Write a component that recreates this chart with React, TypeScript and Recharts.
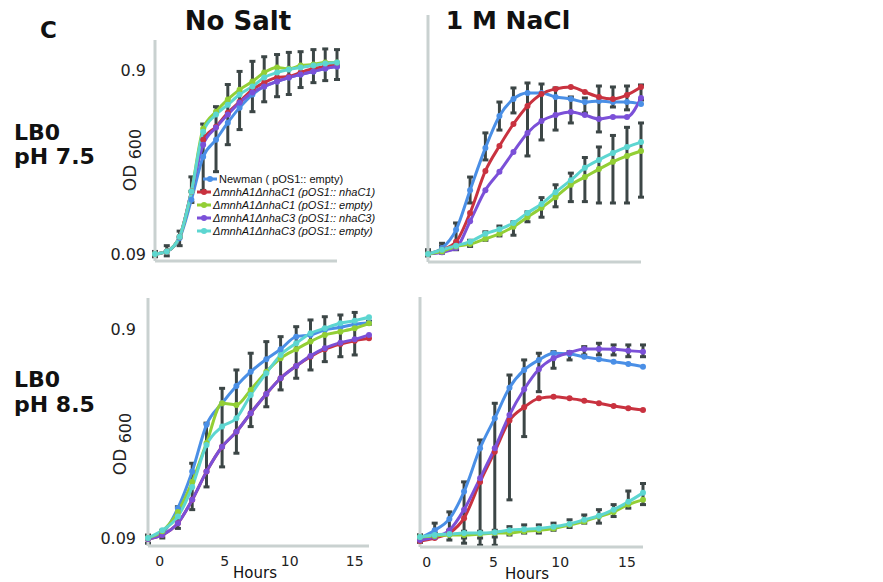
import React from "react";
import { LineChart, Line, XAxis, YAxis, ErrorBar } from "recharts";

// sampling times (h); the two columns were plotted with slightly different offsets
const hoursNoSalt = [-0.9, 0.2, 1.4, 2.5, 3.6, 4.8, 5.9, 7.0, 8.2, 9.3, 10.5, 11.6, 12.7, 13.9, 15.0, 16.1];
const hoursNaCl = [-0.5, 0.6, 1.7, 2.8, 4.0, 5.1, 6.2, 7.3, 8.4, 9.5, 10.7, 11.8, 12.9, 14.0, 15.1, 16.2];

// LB0 pH 7.5, no salt
const ns75Newman = [0.09, 0.093, 0.11, 0.178, 0.305, 0.378, 0.468, 0.565, 0.666, 0.737, 0.784, 0.825, 0.856, 0.89, 0.923, 0.947];
const ns75C1Comp = [0.09, 0.093, 0.112, 0.197, 0.378, 0.445, 0.53, 0.608, 0.708, 0.773, 0.825, 0.834, 0.878, 0.923, 0.947, 0.982];
const ns75C1Empty = [0.09, 0.093, 0.112, 0.197, 0.434, 0.537, 0.626, 0.708, 0.784, 0.878, 0.934, 0.921, 0.958, 0.971, 0.996, 0.996];
const ns75C3Comp = [0.09, 0.093, 0.112, 0.197, 0.355, 0.44, 0.518, 0.601, 0.683, 0.737, 0.784, 0.825, 0.856, 0.89, 0.923, 0.947];
const ns75C3Empty = [0.09, 0.093, 0.112, 0.197, 0.418, 0.518, 0.586, 0.666, 0.737, 0.825, 0.878, 0.911, 0.934, 0.958, 0.982, 0.996];
const ns75Lo = [0.087, 0.088, 0.1, 0.172, 0.2, 0.253, 0.355, 0.429, 0.537, 0.608, 0.648, 0.666, 0.727, 0.773, 0.793, 0.804];
const ns75Hi = [0.093, 0.1, 0.12, 0.237, 0.46, 0.572, 0.755, 0.89, 1.01, 1.07, 1.1, 1.13, 1.14, 1.17, 1.18, 1.17];

// LB0 pH 7.5, 1 M NaCl
const na75Newman = [0.09, 0.097, 0.122, 0.201, 0.342, 0.511, 0.633, 0.683, 0.683, 0.649, 0.633, 0.609, 0.617, 0.609, 0.609, 0.594];
const na75C1Comp = [0.09, 0.095, 0.105, 0.151, 0.256, 0.35, 0.462, 0.58, 0.674, 0.718, 0.736, 0.691, 0.649, 0.633, 0.666, 0.736];
const na75C1Empty = [0.09, 0.093, 0.099, 0.102, 0.109, 0.116, 0.127, 0.143, 0.161, 0.184, 0.215, 0.237, 0.262, 0.287, 0.309, 0.329];
const na75C3Comp = [0.09, 0.092, 0.097, 0.136, 0.201, 0.253, 0.325, 0.413, 0.48, 0.517, 0.537, 0.517, 0.492, 0.505, 0.505, 0.641];
const na75C3Empty = [0.09, 0.095, 0.1, 0.105, 0.116, 0.123, 0.133, 0.151, 0.169, 0.196, 0.228, 0.266, 0.294, 0.321, 0.346, 0.368];
const na75UpLo = [0.088, 0.092, 0.103, 0.171, 0.294, 0.428, 0.531, 0.309, 0.378, 0.428, 0.468, 0.531, 0.418, 0.572, 0.552, 0.625];
const na75UpHi = [0.095, 0.103, 0.133, 0.237, 0.413, 0.609, 0.727, 0.774, 0.764, 0.727, 0.649, 0.641, 0.745, 0.736, 0.745, 0.755];
const na75LowLo = [0.088, 0.091, 0.095, 0.099, 0.107, 0.113, 0.114, 0.135, 0.143, 0.163, 0.174, 0.174, 0.171, 0.171, 0.171, 0.184];
const na75LowHi = [0.092, 0.099, 0.103, 0.107, 0.119, 0.128, 0.135, 0.153, 0.183, 0.215, 0.249, 0.303, 0.346, 0.4, 0.443, 0.468];

// LB0 pH 8.5, no salt
const ns85Newman = [0.09, 0.095, 0.125, 0.187, 0.313, 0.397, 0.48, 0.562, 0.645, 0.72, 0.827, 0.843, 0.89, 0.917, 0.948, 0.965];
const ns85C1Comp = [0.089, 0.093, 0.106, 0.137, 0.187, 0.246, 0.29, 0.356, 0.44, 0.523, 0.599, 0.663, 0.72, 0.763, 0.791, 0.812];
const ns85C1Empty = [0.09, 0.097, 0.12, 0.167, 0.256, 0.397, 0.39, 0.46, 0.562, 0.652, 0.72, 0.783, 0.843, 0.874, 0.907, 0.958];
const ns85C3Comp = [0.089, 0.093, 0.106, 0.137, 0.187, 0.246, 0.29, 0.356, 0.44, 0.523, 0.599, 0.669, 0.728, 0.774, 0.803, 0.843];
const ns85C3Empty = [0.09, 0.098, 0.114, 0.158, 0.251, 0.307, 0.337, 0.435, 0.553, 0.676, 0.769, 0.858, 0.907, 0.958, 0.986, 1.024];
const ns85Lo = [0.085, 0.09, 0.1, 0.123, 0.158, 0.197, 0.229, 0.307, 0.382, 0.46, 0.523, 0.573, 0.628, 0.663, 0.676, 0.95];
const ns85Hi = [0.093, 0.098, 0.127, 0.205, 0.319, 0.468, 0.573, 0.689, 0.783, 0.827, 0.923, 0.994, 1.03, 1.05, 1.08, 0.98];

// LB0 pH 8.5, 1 M NaCl
const na85Newman = [0.09, 0.098, 0.111, 0.15, 0.242, 0.337, 0.471, 0.573, 0.64, 0.689, 0.683, 0.663, 0.645, 0.628, 0.612, 0.594];
const na85C1Comp = [0.087, 0.09, 0.095, 0.112, 0.167, 0.233, 0.328, 0.38, 0.419, 0.427, 0.419, 0.408, 0.397, 0.385, 0.376, 0.369];
const na85C1Empty = [0.091, 0.092, 0.093, 0.093, 0.094, 0.095, 0.095, 0.097, 0.098, 0.1, 0.104, 0.108, 0.114, 0.12, 0.13, 0.137];
const na85C3Comp = [0.088, 0.091, 0.098, 0.123, 0.174, 0.242, 0.349, 0.463, 0.577, 0.652, 0.693, 0.722, 0.722, 0.72, 0.709, 0.701];
const na85C3Empty = [0.091, 0.093, 0.094, 0.095, 0.095, 0.096, 0.098, 0.099, 0.1, 0.102, 0.105, 0.11, 0.115, 0.123, 0.134, 0.148];
const na85UpLo = [0.086, 0.09, 0.098, 0.085, 0.083, 0.083, 0.137, 0.275, 0.451, 0.584, 0.64, 0.676, 0.676, 0.676, 0.663, 0.663];
const na85UpHi = [0.093, 0.106, 0.12, 0.167, 0.265, 0.397, 0.542, 0.64, 0.689, 0.701, 0.701, 0.741, 0.769, 0.755, 0.755, 0.755];
const na85LowLo = [0.086, 0.091, 0.088, 0.09, 0.09, 0.091, 0.093, 0.095, 0.095, 0.098, 0.101, 0.106, 0.106, 0.114, 0.125, 0.13];
const na85LowHi = [0.093, 0.095, 0.097, 0.097, 0.097, 0.098, 0.102, 0.104, 0.104, 0.106, 0.11, 0.116, 0.123, 0.13, 0.151, 0.164];

const odTicks = [0.09, 0.9];
const hourTicks = [0, 5, 10, 15];

const strains = [
  { key: "newman", name: "Newman ( pOS1:: empty)", color: "#4a8fe6", italic: false },
  { key: "c1comp", name: "\u0394mnhA1\u0394nhaC1 (pOS1:: nhaC1)", color: "#c9323f", italic: true },
  { key: "c1empty", name: "\u0394mnhA1\u0394nhaC1 (pOS1:: empty)", color: "#93cf35", italic: true },
  { key: "c3comp", name: "\u0394mnhA1\u0394nhaC3 (pOS1:: nhaC3)", color: "#7b50d8", italic: true },
  { key: "c3empty", name: "\u0394mnhA1\u0394nhaC3 (pOS1:: empty)", color: "#5dd6d1", italic: true },
];
// paint order (last on top)
const drawOrder = ["newman", "c1comp", "c3comp", "c1empty", "c3empty"];

const AXIS = "#c9d1d0";
const BAR = "#3c4646";
const FONT = "DejaVu Sans, sans-serif";

function buildRows(hours: number[], series: Record<string, number[]>, bars: [number[], number[]][]) {
  return hours.map((h, i) => {
    const row: any = { hour: h };
    Object.keys(series).forEach((k) => (row[k] = series[k][i]));
    bars.forEach(([lo, hi], b) => {
      row[`bar${b}`] = lo[i];
      row[`barErr${b}`] = [0, hi[i] - lo[i]];
    });
    return row;
  });
}

const ns75Rows = buildRows(
  hoursNoSalt,
  { newman: ns75Newman, c1comp: ns75C1Comp, c1empty: ns75C1Empty, c3comp: ns75C3Comp, c3empty: ns75C3Empty },
  [[ns75Lo, ns75Hi]]
);
const na75Rows = buildRows(
  hoursNaCl,
  { newman: na75Newman, c1comp: na75C1Comp, c1empty: na75C1Empty, c3comp: na75C3Comp, c3empty: na75C3Empty },
  [[na75UpLo, na75UpHi], [na75LowLo, na75LowHi]]
);
const ns85Rows = buildRows(
  hoursNoSalt,
  { newman: ns85Newman, c1comp: ns85C1Comp, c1empty: ns85C1Empty, c3comp: ns85C3Comp, c3empty: ns85C3Empty },
  [[ns85Lo, ns85Hi]]
);
const na85Rows = buildRows(
  hoursNaCl,
  { newman: na85Newman, c1comp: na85C1Comp, c1empty: na85C1Empty, c3comp: na85C3Comp, c3empty: na85C3Empty },
  [[na85UpLo, na85UpHi], [na85LowLo, na85LowHi]]
);

interface PanelProps {
  rows: any[];
  hours: number[];
  left: number;
  top: number;
  width: number;
  height: number;
  yWidth: number;
  xHeight: number;
  yDomain: [number, number];
  showY: boolean;
  showX: boolean;
  yTickGap: number;
  barCount: number;
}

function Panel({ rows, hours, left, top, width, height, yWidth, xHeight, yDomain, showY, showX, yTickGap, barCount }: PanelProps) {
  const bars = Array.from({ length: barCount }, (_, b) => b);
  return (
    <div style={{ position: "absolute", left, top }}>
      <LineChart width={width} height={height} data={rows} margin={{ top: 10, right: 12, bottom: 0, left: 0 }}>
        <XAxis
          dataKey="hour"
          type="number"
          domain={[hours[0], hours[hours.length - 1]]}
          ticks={hourTicks}
          tick={showX ? { fill: "#222", fontSize: 14, fontFamily: FONT } : false}
          height={xHeight}
          tickLine={false}
          tickSize={6}
          tickMargin={4}
          axisLine={{ stroke: AXIS, strokeWidth: 3 }}
        />
        <YAxis
          type="number"
          scale="log"
          domain={yDomain}
          ticks={odTicks}
          tick={showY ? { fill: "#222", fontSize: 16, fontFamily: FONT } : false}
          tickFormatter={(v) => String(v)}
          width={yWidth}
          tickLine={false}
          tickSize={0}
          tickMargin={yTickGap}
          axisLine={{ stroke: AXIS, strokeWidth: 3 }}
        />
        {bars.map((b) => (
          <Line
            key={`bar${b}`}
            dataKey={`bar${b}`}
            stroke="none"
            dot={false}
            activeDot={false}
            legendType="none"
            isAnimationActive={false}
          >
            <ErrorBar dataKey={`barErr${b}`} direction="y" width={3} strokeWidth={3} stroke={BAR} isAnimationActive={false} />
          </Line>
        ))}
        {drawOrder.map((k) => {
          const s = strains.find((st) => st.key === k)!;
          return (
            <Line
              key={k}
              type="monotone"
              dataKey={k}
              name={s.name}
              stroke={s.color}
              strokeWidth={3}
              dot={{ r: 3, fill: s.color, stroke: s.color, strokeWidth: 0 }}
              activeDot={false}
              isAnimationActive={false}
            />
          );
        })}
      </LineChart>
    </div>
  );
}

function Text({ x, cy, size, bold, center, children }: any) {
  return (
    <div
      style={{
        position: "absolute",
        left: x,
        top: cy - 0.48 * size,
        transform: center ? "translateX(-50%)" : undefined,
        fontFamily: FONT,
        fontSize: size,
        fontWeight: bold ? "bold" : "normal",
        lineHeight: 1,
        whiteSpace: "nowrap",
        color: "#111",
      }}
    >
      {children}
    </div>
  );
}

function OdLabel({ cx, cy }: { cx: number; cy: number }) {
  return (
    <div
      style={{
        position: "absolute",
        left: cx,
        top: cy,
        transform: "translate(-50%, -50%) rotate(-90deg)",
        fontFamily: FONT,
        fontSize: 17,
        lineHeight: 1,
        whiteSpace: "nowrap",
        color: "#222",
      }}
    >
      OD <span style={{ position: "relative", top: 5, fontSize: 16 }}>600</span>
    </div>
  );
}

function StrainLegend({ left, top }: { left: number; top: number }) {
  return (
    <div style={{ position: "absolute", left, top }}>
      {strains.map((s, i) => {
        const indent = i === 0 ? 6 : 0;
        return (
          <div key={s.key} style={{ display: "flex", alignItems: "center", height: 13.2, marginLeft: indent }}>
            <svg width={16} height={8} style={{ flex: "none" }}>
              <line x1={1} y1={4} x2={15} y2={4} stroke={s.color} strokeWidth={3} />
              <circle cx={8} cy={4} r={3} fill={s.color} />
            </svg>
            <span
              style={{
                fontFamily: "Liberation Sans, Arial, sans-serif",
                fontSize: 11,
                fontStyle: s.italic ? "italic" : "normal",
                color: "#111",
                marginLeft: 1,
                whiteSpace: "nowrap",
              }}
            >
              {s.name}
            </span>
          </div>
        );
      })}
    </div>
  );
}

export default function App() {
  return (
    <div style={{ position: "absolute", left: 0, top: 0, width: 883, height: 582, background: "#fff", overflow: "hidden" }}>
      <Panel rows={ns75Rows} hours={hoursNoSalt} left={100} top={30} width={249} height={241} yWidth={55} xHeight={10}
        yDomain={[0.0825, 1.32]} showY showX={false} yTickGap={9} barCount={1} />
      <Panel rows={na75Rows} hours={hoursNaCl} left={380} top={5} width={273} height={267} yWidth={48} xHeight={10}
        yDomain={[0.0814, 1.82]} showY={false} showX={false} yTickGap={10} barCount={2} />
      <Panel rows={ns85Rows} hours={hoursNoSalt} left={90} top={288} width={291} height={288} yWidth={58} xHeight={30}
        yDomain={[0.0824, 1.266]} showY showX yTickGap={12} barCount={1} />
      <Panel rows={na85Rows} hours={hoursNaCl} left={370} top={287} width={285} height={290} yWidth={50} xHeight={30}
        yDomain={[0.0815, 1.28]} showY={false} showX yTickGap={10} barCount={2} />

      <StrainLegend left={196} top={172} />

      <Text x={40} cy={30} size={23} bold>C</Text>
      <Text x={238} cy={20} size={26} bold center>No Salt</Text>
      <Text x={508} cy={20} size={25} bold center>1 M NaCl</Text>
      <Text x={14} cy={133} size={22} bold>LB0</Text>
      <Text x={14} cy={157} size={22} bold>pH 7.5</Text>
      <Text x={14} cy={380} size={22} bold>LB0</Text>
      <Text x={14} cy={405} size={22} bold>pH 8.5</Text>
      <Text x={255} cy={573} size={15} center>Hours</Text>
      <Text x={527} cy={574} size={15} center>Hours</Text>

      <OdLabel cx={130} cy={160} />
      <OdLabel cx={120} cy={444} />
    </div>
  );
}
